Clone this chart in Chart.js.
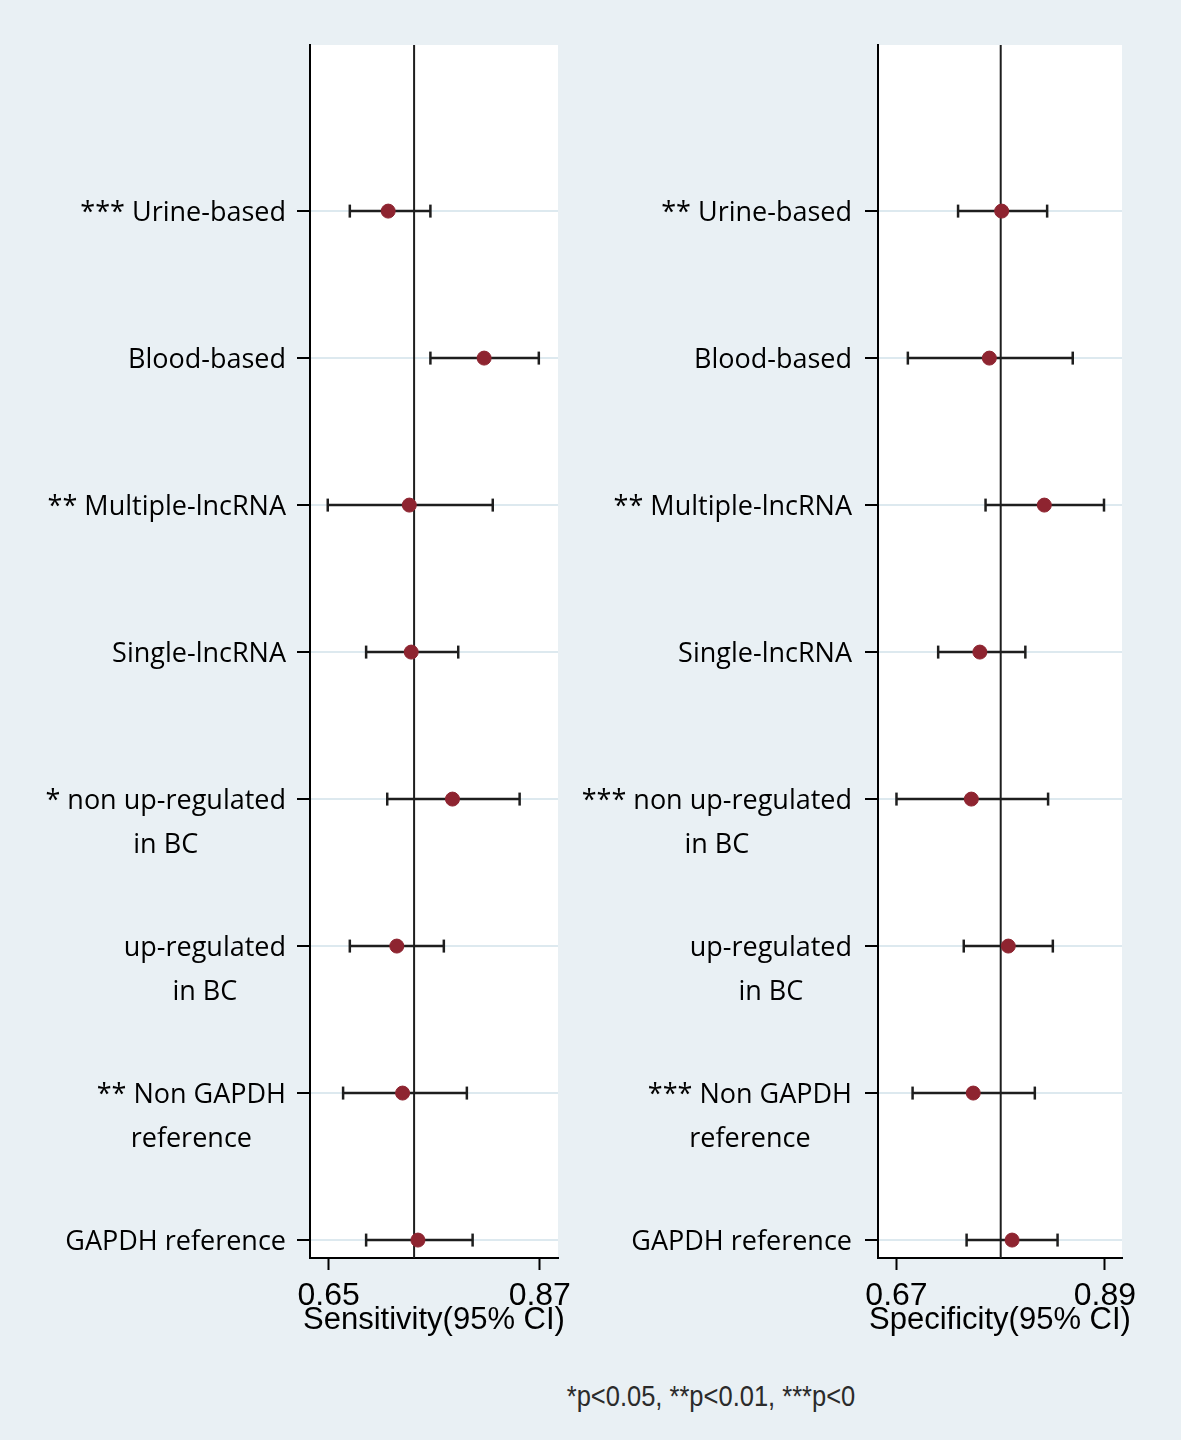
<!DOCTYPE html>
<html>
<head>
<meta charset="utf-8">
<script src="https://cdn.jsdelivr.net/npm/chart.js@4.4.0/dist/chart.umd.min.js"></script>
<style>
  body { margin: 0; background: #e9f0f4; }
  #wrap { position: relative; width: 1181px; height: 1440px; background: #e9f0f4; overflow: hidden; }
  canvas { position: absolute; top: 0; }
  #left { left: 0; }
  #right { left: 565px; }
  #note {
    position: absolute; top: 1381px; left: 711px;
    font-family: 'Liberation Sans', Arial, sans-serif; font-size: 30px; line-height: 30px;
    color: #2b2b2b; white-space: nowrap;
    transform: translateX(-50%) scaleX(0.85);
  }
</style>
</head>
<body>
<div id="wrap">
  <canvas id="left" width="590" height="1340"></canvas>
  <canvas id="right" width="616" height="1340"></canvas>
  <div id="note">*p&lt;0.05, **p&lt;0.01, ***p&lt;0</div>
</div>
<script>
// rows, top to bottom
const rowPos = [8, 7, 6, 5, 4, 3, 2, 1];
const sensLabels = [
  ['*** Urine-based'], ['Blood-based'], ['** Multiple-lncRNA'], ['Single-lncRNA'],
  ['* non up-regulated', 'in BC'], ['up-regulated', 'in BC'], ['** Non GAPDH', 'reference'], ['GAPDH reference']
];
const specLabels = [
  ['** Urine-based'], ['Blood-based'], ['** Multiple-lncRNA'], ['Single-lncRNA'],
  ['*** non up-regulated', 'in BC'], ['up-regulated', 'in BC'], ['*** Non GAPDH', 'reference'], ['GAPDH reference']
];

// sensitivity (95% CI)
const sensEst  = [0.712, 0.812, 0.734, 0.736, 0.779, 0.721, 0.727, 0.743];
const sensLow  = [0.672, 0.756, 0.649, 0.689, 0.711, 0.672, 0.665, 0.689];
const sensHigh = [0.756, 0.869, 0.821, 0.785, 0.849, 0.770, 0.794, 0.800];
const sensRef = 0.739;
const sensTicks = [0.65, 0.87];
const sensRange = [0.6305, 0.889];

// specificity (95% CI)
const specEst  = [0.781, 0.768, 0.826, 0.758, 0.749, 0.788, 0.751, 0.792];
const specLow  = [0.735, 0.682, 0.764, 0.714, 0.670, 0.741, 0.687, 0.744];
const specHigh = [0.829, 0.856, 0.889, 0.806, 0.830, 0.835, 0.816, 0.840];
const specRef = 0.780;
const specTicks = [0.67, 0.89];
const specRange = [0.6505, 0.908];

const yRange = [0.878, 9.13];

function forest(id, est, low, high, ref, labels, ticks, range, title, pad, labelRight) {
  // CI bars, one little line per row, caps made with rotated 'line' points
  const ciSets = rowPos.map((y, i) => ({
    data: [{x: low[i], y: y}, {x: high[i], y: y}],
    showLine: true,
    borderColor: '#1e1e1e',
    borderWidth: 2.5,
    pointStyle: 'line',
    rotation: 90,
    pointRadius: 6.5,
    pointBorderWidth: 2.5,
    pointBorderColor: '#1e1e1e',
    order: 1
  }));

  const refSet = {
    data: [{x: ref, y: yRange[0]}, {x: ref, y: yRange[1]}],
    showLine: true,
    borderColor: '#1e1e1e',
    borderWidth: 2,
    pointRadius: 0,
    order: 2
  };

  const estSet = {
    data: rowPos.map((y, i) => ({x: est[i], y: y})),
    pointRadius: 7,
    pointStyle: 'circle',
    backgroundColor: '#8e2430',
    borderColor: '#8e2430',
    order: 0
  };

  const labelPlugin = {
    id: 'rowLabels',
    afterDraw(chart) {
      const ctx = chart.ctx;
      const ys = chart.scales.y;
      const a = chart.chartArea;
      ctx.save();
      ctx.font = '27px "Open Sans"';
      ctx.fillStyle = '#000';
      ctx.textAlign = 'center';
      ctx.textBaseline = 'middle';
      labels.forEach((lines, i) => {
        const py = ys.getPixelForValue(rowPos[i]);
        const w = Math.max(...lines.map(t => ctx.measureText(t).width));
        const cx = labelRight - w / 2;
        lines.forEach((t, j) => ctx.fillText(t, cx, py + 2 + j * 44));
      });
      // axis title, wider than the plot so drawn here
      ctx.font = '31px "Liberation Sans"';
      ctx.textBaseline = 'alphabetic';
      ctx.fillText(title, (a.left + a.right) / 2, 1329);
      ctx.restore();
    }
  };

  const whiteArea = {
    id: 'whiteArea',
    beforeDraw(chart) {
      const a = chart.chartArea;
      chart.ctx.save();
      chart.ctx.fillStyle = '#fff';
      chart.ctx.fillRect(a.left, a.top, a.right - a.left, a.bottom - a.top);
      chart.ctx.restore();
    }
  };

  return new Chart(document.getElementById(id), {
    type: 'scatter',
    data: { datasets: [estSet, ...ciSets, refSet] },
    options: {
      responsive: false,
      animation: false,
      layout: { padding: pad },
      plugins: { legend: { display: false }, tooltip: { enabled: false } },
      scales: {
        x: {
          type: 'linear',
          min: range[0], max: range[1],
          border: { color: '#000', width: 2 },
          grid: { drawOnChartArea: false, drawTicks: true, tickLength: 12, tickColor: '#000', tickWidth: 2 },
          afterBuildTicks: s => { s.ticks = ticks.map(v => ({value: v})); },
          afterFit: s => { s.height = 82; },
          ticks: {
            color: '#000', padding: 10,
            font: { family: 'Liberation Sans', size: 32, lineHeight: 1 },
            callback: v => v.toFixed(2)
          }
        },
        y: {
          type: 'linear',
          min: yRange[0], max: yRange[1],
          border: { color: '#000', width: 2 },
          grid: { color: '#dde9ef', lineWidth: 2, tickColor: '#000', tickLength: 13, tickWidth: 2 },
          afterBuildTicks: s => { s.ticks = rowPos.map(v => ({value: v})); },
          ticks: { display: false }
        }
      }
    },
    plugins: [whiteArea, labelPlugin]
  });
}

forest('left', sensEst, sensLow, sensHigh, sensRef, sensLabels, sensTicks, sensRange,
  'Sensitivity(95% CI)', {left: 297, right: 32, top: 45, bottom: 0}, 286);
forest('right', specEst, specLow, specHigh, specRef, specLabels, specTicks, specRange,
  'Specificity(95% CI)', {left: 300, right: 59, top: 45, bottom: 0}, 287);
</script>
</body>
</html>
